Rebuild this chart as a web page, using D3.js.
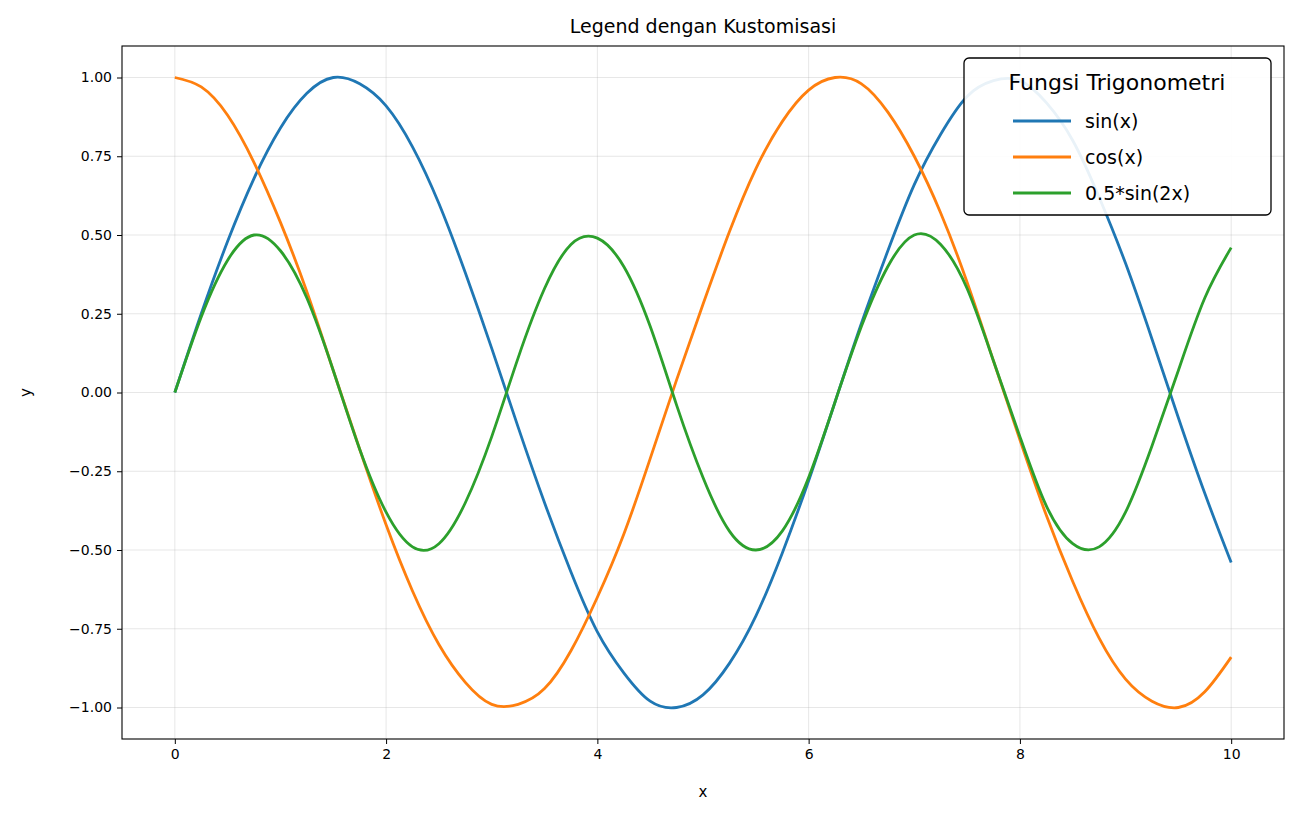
<!DOCTYPE html>
<html>
<head>
<meta charset="utf-8">
<script src="https://cdn.jsdelivr.net/npm/d3@7"></script>
<style>
  body { margin: 0; background: #fff; }
  text { font-family: "DejaVu Sans", sans-serif; }
</style>
</head>
<body>
<svg id="chart" width="1299" height="817"></svg>
<script>
// values, x step 0.25
var xs = d3.range(0, 10.001, 0.25);
var sinVals = [0, .25, .48, .68, .84, .95, 1.00, .98, .91, .78, .60, .38, .14, -.11, -.35, -.57, -.76, -.89, -.98, -1.00,
  -.96, -.86, -.71, -.51, -.28, -.03, .22, .45, .66, .82, .94, .99, .99, .92, .80, .62, .41, .17, -.08, -.32, -.54];
var cosVals = [1, .97, .88, .73, .54, .32, .07, -.18, -.42, -.63, -.80, -.92, -.99, -.99, -.94, -.82, -.65, -.45, -.21, .04,
  .28, .51, .71, .86, .96, 1.00, .98, .89, .75, .57, .35, .10, -.15, -.39, -.60, -.78, -.91, -.98, -1.00, -.95, -.84];
var sin2Vals = [0, .24, .42, .50, .45, .30, .07, -.18, -.38, -.49, -.48, -.35, -.14, .11, .33, .47, .49, .40, .21, -.04,
  -.27, -.44, -.50, -.44, -.27, -.03, .21, .40, .50, .47, .33, .10, -.14, -.36, -.48, -.49, -.38, -.17, .07, .30, .46];
var seriesNames = ["sin(x)", "cos(x)", "0.5*sin(2x)"];
var seriesColors = ["#1f77b4", "#ff7f0e", "#2ca02c"];
var xTicks = [0, 2, 4, 6, 8, 10];
var yTicks = [-1, -0.75, -0.5, -0.25, 0, 0.25, 0.5, 0.75, 1];

var svg = d3.select("#chart");
var L = 122, R = 1284, T = 46, B = 739;
var x = d3.scaleLinear().domain([-0.5, 10.5]).range([L, R]);
var y = d3.scaleLinear().domain([-1.1, 1.1]).range([B, T]);

// grid
svg.append("g").selectAll("line").data(xTicks).join("line")
  .attr("x1", d => x(d)).attr("x2", d => x(d)).attr("y1", T).attr("y2", B)
  .attr("stroke", "#b0b0b0").attr("stroke-opacity", 0.3).attr("stroke-width", 1);
svg.append("g").selectAll("line").data(yTicks).join("line")
  .attr("y1", d => y(d)).attr("y2", d => y(d)).attr("x1", L).attr("x2", R)
  .attr("stroke", "#b0b0b0").attr("stroke-opacity", 0.3).attr("stroke-width", 1);

// lines
var allSeries = [sinVals, cosVals, sin2Vals];
var line = d3.line().x((d, i) => x(xs[i])).y(d => y(d)).curve(d3.curveNatural);
svg.append("g").selectAll("path").data(allSeries).join("path")
  .attr("d", line).attr("fill", "none")
  .attr("stroke", (d, i) => seriesColors[i]).attr("stroke-width", 2.8);

// axes
var xAxis = svg.append("g").attr("transform", "translate(0," + B + ")")
  .call(d3.axisBottom(x).tickValues(xTicks).tickFormat(d3.format("d")).tickSize(5).tickPadding(5));
var yAxis = svg.append("g").attr("transform", "translate(" + L + ",0)")
  .call(d3.axisLeft(y).tickValues(yTicks).tickFormat(d => d3.format(".2f")(d).replace("-", "\u2212")).tickSize(5).tickPadding(5));
[xAxis, yAxis].forEach(a => {
  a.select(".domain").remove();
  a.attr("font-size", null).attr("font-family", null);
  a.selectAll("text").style("font-size", "14px").attr("fill", "#000").style("font-family", "DejaVu Sans");
  a.selectAll("line").attr("stroke", "#000");
});
svg.append("rect").attr("x", L).attr("y", T).attr("width", R - L).attr("height", B - T)
  .attr("fill", "none").attr("stroke", "#000").attr("stroke-width", 1.1);

// labels
svg.append("text").attr("x", (L + R) / 2).attr("y", 33).attr("text-anchor", "middle")
  .style("font-size", "19px").text("Legend dengan Kustomisasi");
svg.append("text").attr("x", (L + R) / 2).attr("y", 797).attr("text-anchor", "middle")
  .style("font-size", "15px").text("x");
svg.append("text").attr("transform", "translate(31," + (T + B) / 2 + ") rotate(-90)")
  .attr("text-anchor", "middle").style("font-size", "15px").text("y");

// legend
var lg = svg.append("g");
lg.append("rect").attr("x", 964).attr("y", 58).attr("width", 307).attr("height", 157).attr("rx", 5)
  .attr("fill", "#fff").attr("fill-opacity", 0.9).attr("stroke", "#000").attr("stroke-width", 1.3);
lg.append("text").attr("x", 1117).attr("y", 90).attr("text-anchor", "middle")
  .style("font-size", "22px").text("Fungsi Trigonometri");
seriesNames.forEach((name, i) => {
  var yy = 121 + i * 36;
  lg.append("line").attr("x1", 1013).attr("x2", 1071).attr("y1", yy).attr("y2", yy)
    .attr("stroke", seriesColors[i]).attr("stroke-width", 2.8);
  lg.append("text").attr("x", 1085).attr("y", yy + 7).style("font-size", "19px").text(name);
});
</script>
</body>
</html>
